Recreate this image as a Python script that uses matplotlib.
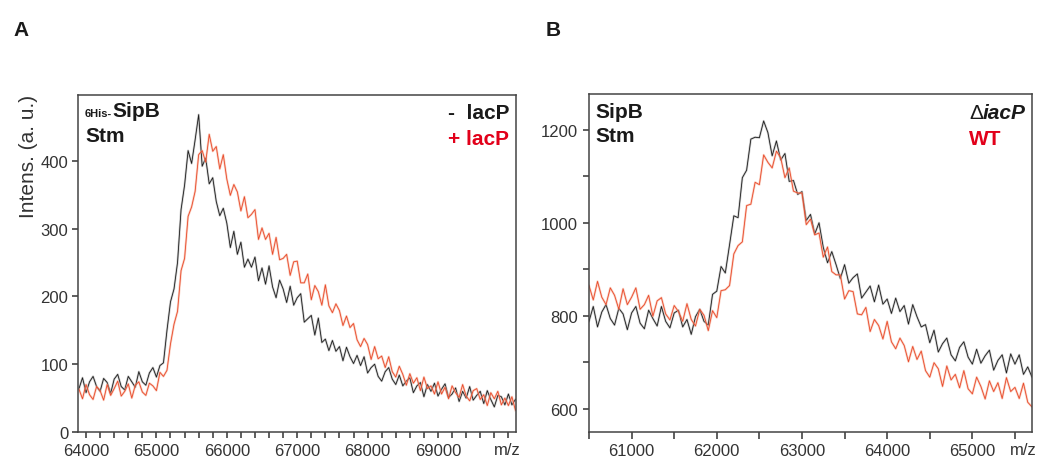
import numpy as np
import matplotlib
matplotlib.use('Agg')
import matplotlib.pyplot as plt
from matplotlib.ticker import MultipleLocator

plt.rcParams['font.family'] = ['Liberation Sans', 'DejaVu Sans']

# ---- panel A data: m/z grid (step 50) and intensities ----
mz_a = np.arange(63900, 70101, 50)
minus_lacp = [64, 80, 58, 74, 82, 67, 60, 79, 73, 57,
              78, 85, 67, 62, 82, 74, 66, 89, 74, 69,
              87, 95, 81, 98, 102, 150, 192, 211, 250, 328,
              364, 415, 396, 431, 468, 392, 404, 366, 375, 340,
              319, 330, 308, 272, 296, 262, 280, 243, 255, 243,
              258, 223, 242, 218, 245, 214, 198, 224, 211, 191,
              215, 187, 198, 204, 162, 167, 172, 143, 168, 132,
              137, 120, 135, 119, 126, 105, 125, 111, 101, 113,
              98, 111, 87, 95, 100, 82, 75, 89, 95, 78,
              70, 84, 68, 75, 80, 58, 68, 73, 52, 70,
              60, 72, 53, 63, 71, 51, 56, 65, 45, 60,
              50, 67, 47, 54, 60, 42, 61, 48, 37, 54,
              52, 40, 56, 40, 48]
plus_lacp = [63, 49, 70, 55, 48, 67, 61, 47, 70, 54,
             64, 75, 53, 60, 71, 50, 69, 74, 59, 54,
             72, 68, 61, 88, 82, 91, 130, 159, 178, 238,
             256, 318, 332, 355, 409, 415, 398, 439, 414, 421,
             388, 409, 373, 349, 365, 354, 326, 347, 316, 321,
             328, 284, 301, 284, 293, 262, 287, 254, 256, 262,
             231, 251, 252, 220, 220, 233, 195, 216, 207, 187,
             217, 186, 176, 189, 179, 157, 171, 154, 160, 136,
             126, 138, 129, 107, 126, 108, 112, 95, 111, 89,
             81, 97, 85, 69, 86, 72, 80, 61, 81, 64,
             68, 56, 74, 56, 66, 49, 68, 58, 51, 70,
             53, 46, 61, 64, 48, 55, 39, 58, 49, 60,
             40, 50, 39, 52, 32]
ticks_a = [64000, 65000, 66000, 67000, 68000, 69000, 70000]
ticklabels_a = ['64000', '65000', '66000', '67000', '68000', '69000', '']

# ---- panel B data ----
mz_b = np.arange(60500, 65701, 50)
delta_iacp = [788, 820, 776, 808, 824, 794, 780, 816, 804, 770,
              806, 820, 784, 772, 812, 794, 778, 820, 788, 774,
              806, 812, 776, 792, 760, 798, 814, 788, 780, 846,
              853, 906, 892, 953, 1015, 1011, 1097, 1113, 1180, 1184,
              1183, 1219, 1194, 1144, 1176, 1135, 1149, 1089, 1091, 1061,
              1067, 1005, 1018, 976, 1000, 947, 914, 938, 910, 880,
              910, 870, 882, 890, 838, 851, 864, 830, 866, 825,
              836, 805, 838, 809, 822, 782, 824, 798, 776, 781,
              742, 769, 722, 740, 752, 716, 703, 732, 744, 711,
              696, 728, 698, 714, 726, 683, 704, 716, 677, 718,
              696, 716, 674, 690, 668]
wt = [865, 834, 874, 840, 824, 860, 844, 814, 858, 824,
      840, 860, 814, 824, 844, 799, 832, 839, 804, 791,
      822, 809, 788, 826, 792, 778, 814, 801, 768, 811,
      796, 854, 856, 865, 933, 951, 959, 1037, 1040, 1087,
      1082, 1146, 1130, 1118, 1154, 1140, 1097, 1118, 1068, 1064,
      1064, 996, 1008, 974, 978, 926, 948, 895, 888, 888,
      836, 854, 852, 804, 802, 818, 766, 792, 779, 750,
      788, 744, 729, 752, 736, 701, 734, 706, 724, 682,
      668, 699, 686, 648, 692, 662, 674, 645, 682, 643,
      632, 668, 648, 621, 660, 637, 656, 622, 667, 637,
      646, 622, 655, 614, 604]

W, H = 1052, 464
fig = plt.figure(figsize=(W / 100, H / 100), dpi=100)

def px(x, y):
    return x / W, 1 - y / H

txt = '#1a1a1a'
red_txt = '#e2001a'
blk, blk_halo = '#1c1c1c', '#a0a0a0'
red, red_halo = '#e9492a', '#f5a78d'

axA = fig.add_axes([78 / W, 1 - 433 / H, 438 / W, 337 / H])
axB = fig.add_axes([589 / W, 1 - 433 / H, 443 / W, 338 / H])

for ax, x, s1, s2 in [(axA, mz_a, minus_lacp, plus_lacp), (axB, mz_b, delta_iacp, wt)]:
    ax.plot(x, s1, color=blk_halo, lw=1.6, alpha=0.55)
    ax.plot(x, s1, color=blk, lw=0.6)
    ax.plot(x, s2, color=red_halo, lw=1.6, alpha=0.55)
    ax.plot(x, s2, color=red, lw=0.6)
    for sp in ax.spines.values():
        sp.set_color('#444444')
        sp.set_linewidth(1.1)
    ax.tick_params(which='both', direction='out', colors='#333333', labelsize=12,
                   top=False, right=False, width=1.1)
    ax.tick_params(which='major', length=4, pad=4)
    ax.tick_params(which='minor', length=4)

axA.set_xlim(63886, 70108)
axA.set_ylim(0, 497)
axA.set_xticks(ticks_a)
axA.set_xticklabels(ticklabels_a)
axA.xaxis.set_minor_locator(MultipleLocator(200))
axA.set_yticks([0, 100, 200, 300, 400])
axA.tick_params(axis='y', pad=3)

axB.set_xlim(60500, 65700)
axB.set_ylim(550, 1277)
axB.set_xticks([61000, 62000, 63000, 64000, 65000])
axB.xaxis.set_minor_locator(MultipleLocator(500))
axB.tick_params(axis='x', which='minor', length=5)
axB.tick_params(axis='x', which='major', length=5, pad=3)
axB.set_yticks([600, 800, 1000, 1200])
axB.yaxis.set_minor_locator(MultipleLocator(100))

# m/z labels
fig.text(*px(507, 451), 'm/z', fontsize=12, color='#333333', ha='center', va='center')
fig.text(*px(1023, 451), 'm/z', fontsize=12, color='#333333', ha='center', va='center')

# y label
fig.text(*px(29, 95), 'Intens. (a. u.)', fontsize=15, color='#333333',
         rotation=90, ha='center', va='top')

# panel letters
fig.text(*px(13, 36), 'A', fontsize=15, fontweight='bold', color=txt, va='baseline')
fig.text(*px(546, 36), 'B', fontsize=15, fontweight='bold', color=txt, va='baseline')

# panel A annotations
t1 = fig.text(*px(85, 117), '6His-', fontsize=8, fontweight='bold', color=txt, va='baseline')
fig.canvas.draw()
bb = t1.get_window_extent()
fig.text(bb.x1 / W, 1 - 117 / H, 'SipB', fontsize=15, fontweight='bold', color=txt, va='baseline')
fig.text(*px(85, 142), 'Stm', fontsize=15, fontweight='bold', color=txt, va='baseline')
fig.text(*px(509, 119), '-  lacP', fontsize=15, fontweight='bold', color=txt, ha='right', va='baseline')
fig.text(*px(509, 145), '+ lacP', fontsize=15, fontweight='bold', color=red_txt, ha='right', va='baseline')

# panel B annotations
fig.text(*px(595, 118), 'SipB', fontsize=15, fontweight='bold', color=txt, va='baseline')
fig.text(*px(595, 142), 'Stm', fontsize=15, fontweight='bold', color=txt, va='baseline')
td = fig.text(*px(969, 119), '\u0394', fontsize=15, color=txt, va='baseline')
fig.canvas.draw()
bd = td.get_window_extent()
fig.text(bd.x1 / W, 1 - 119 / H, 'iacP', fontsize=15, fontweight='bold', style='italic',
         color=txt, va='baseline')
fig.text(*px(969, 145), 'WT', fontsize=15, fontweight='bold', color=red_txt, va='baseline')

fig.savefig('out.png', dpi=100)
